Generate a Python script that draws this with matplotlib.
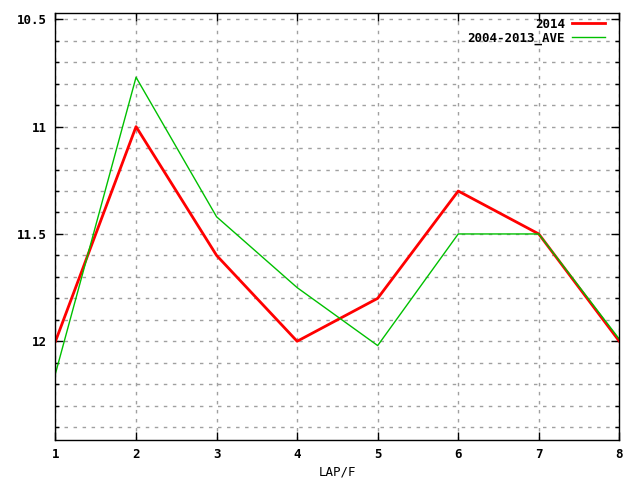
import numpy as np
import matplotlib
matplotlib.use("Agg")
import matplotlib.pyplot as plt
from matplotlib.ticker import MultipleLocator

# lap times per lap
laps = [1, 2, 3, 4, 5, 6, 7, 8]
t_2014 = [12.0, 11.0, 11.6, 12.0, 11.8, 11.3, 11.5, 12.0]
t_ave = [12.15, 10.77, 11.42, 11.75, 12.02, 11.5, 11.5, 11.99]

plt.rcParams['font.family'] = 'DejaVu Sans Mono'
plt.rcParams['font.weight'] = 'bold'
plt.rcParams['font.size'] = 9

fig = plt.figure(figsize=(6.4, 4.8), dpi=100)
ax = fig.add_axes([0.0867, 0.0833, 0.881, 0.889])

ax.plot(laps, t_2014, color='#ff0000', lw=2, label='2014')
ax.plot(laps, t_ave, color='#00c000', lw=1, label='2004-2013_AVE')

ax.set_xlim(1, 8)
ax.set_ylim(12.46, 10.472)
ax.yaxis.set_minor_locator(MultipleLocator(0.1))
ax.xaxis.set_major_locator(MultipleLocator(1))
ax.set_yticks([10.5, 11, 11.5, 12])
ax.set_yticklabels(['10.5', '11', '11.5', '12'])

ax.grid(True, which='both', axis='y', color='#a0a0a0', ls=(0, (2.5, 4)), lw=1)
ax.grid(True, which='major', axis='x', color='#a0a0a0', ls=(0, (2.5, 4)), lw=1)

ax.tick_params(which='both', direction='in', top=True, right=True, width=1, colors='black')
ax.tick_params(which='major', length=6, pad=6)
ax.tick_params(which='minor', length=3)
for s in ax.spines.values():
    s.set_linewidth(1)

ax.set_xlabel('LAP/F', labelpad=3)

leg = ax.legend(loc='upper right', bbox_to_anchor=(0.982, 1.0), frameon=False,
                markerfirst=False, handlelength=2.6, borderaxespad=0.05,
                labelspacing=0.05, handletextpad=0.6, borderpad=0.3)
for t in leg.get_texts():
    t.set_ha('right')

fig.savefig('out.png', dpi=100)
